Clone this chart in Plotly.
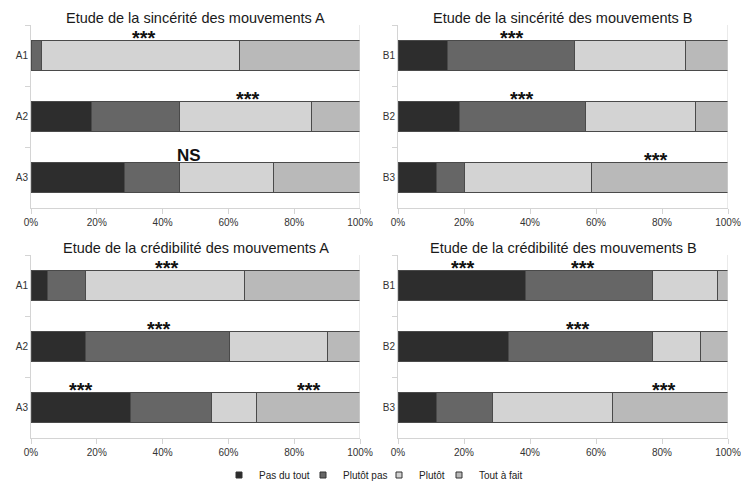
import plotly.graph_objects as go

# ---------------- data ----------------
responses = ["Pas du tout", "Plutôt pas", "Plutôt", "Tout à fait"]
colors = ["#2d2d2d", "#666666", "#d3d3d3", "#b9b9b9"]

cats_A = ["A1", "A2", "A3"]
cats_B = ["B1", "B2", "B3"]

# rows = responses, columns = categories (percent)
sincerite_A = [
    [0.0, 18.3, 28.3],
    [3.2, 26.8, 16.8],
    [60.2, 40.1, 28.5],
    [36.6, 14.8, 26.4],
]
sincerite_B = [
    [15.1, 18.7, 11.8],
    [38.4, 38.2, 8.3],
    [33.5, 33.2, 38.5],
    [13.0, 9.9, 41.4],
]
credibilite_A = [
    [5.0, 16.7, 30.1],
    [11.7, 43.5, 24.9],
    [48.3, 29.9, 13.5],
    [35.0, 9.9, 31.5],
]
credibilite_B = [
    [38.5, 33.5, 11.8],
    [38.5, 43.5, 16.8],
    [19.8, 14.6, 36.5],
    [3.2, 8.4, 34.9],
]

titles = [
    "Etude de la sincérité des mouvements A",
    "Etude de la sincérité des mouvements B",
    "Etude de la crédibilité des mouvements A",
    "Etude de la crédibilité des mouvements B",
]

# significance marks: (category, x position in %, text)
marks_sA = [("A1", 34.2, "***"), ("A2", 65.9, "***"), ("A3", 47.9, "NS")]
marks_sB = [("B1", 34.4, "***"), ("B2", 37.6, "***"), ("B3", 78.3, "***")]
marks_cA = [("A1", 41.3, "***"), ("A2", 38.8, "***"), ("A3", 15.3, "***"), ("A3", 84.6, "***")]
marks_cB = [("B1", 19.8, "***"), ("B1", 56.2, "***"), ("B2", 54.6, "***"), ("B3", 80.6, "***")]

x_ticks = [0, 20, 40, 60, 80, 100]
x_tick_labels = ["0%", "20%", "40%", "60%", "80%", "100%"]

# ---------------- layout geometry ----------------
W, H = 741, 483
def px_x(a, b):
    return [a / W, b / W]
def px_y(top, bottom):
    return [(H - bottom) / H, (H - top) / H]
def py(v):
    return (H - v) / H

panels = [
    dict(data=sincerite_A, cats=cats_A, marks=marks_sA, xd=px_x(31, 360), yd=px_y(25, 208), ty=18),
    dict(data=sincerite_B, cats=cats_B, marks=marks_sB, xd=px_x(398, 728), yd=px_y(25, 208), ty=18),
    dict(data=credibilite_A, cats=cats_A, marks=marks_cA, xd=px_x(31, 360), yd=px_y(255, 438), ty=248),
    dict(data=credibilite_B, cats=cats_B, marks=marks_cB, xd=px_x(398, 728), yd=px_y(255, 438), ty=248),
]

# legend symbol centres (page px)
legend_symbol_x = [240, 324, 400, 460]

FONT = "Liberation Sans, Arial, sans-serif"
AXC = "#d4d4d4"

fig = go.Figure()
annotations = []
shapes = []
layout_axes = {}

for i, p in enumerate(panels):
    n = "" if i == 0 else str(i + 1)
    xa, ya = "x" + n, "y" + n
    for r, resp in enumerate(responses):
        fig.add_trace(go.Bar(
            y=p["cats"], x=p["data"][r], orientation="h", name=resp,
            marker=dict(color=colors[r], line=dict(color="#4a4a4a", width=1)),
            xaxis=xa, yaxis=ya, legendgroup=resp, showlegend=False,
            hoverinfo="x+y+name",
        ))
    layout_axes["xaxis" + n] = dict(
        domain=p["xd"], anchor=ya, range=[0, 100], tickmode="array",
        tickvals=x_ticks, ticktext=x_tick_labels, automargin=False,
        showline=True, linecolor=AXC, linewidth=1,
        ticks="outside", ticklen=5, tickcolor=AXC, showgrid=False, zeroline=False,
        tickfont=dict(size=10, color="#333333", family=FONT), fixedrange=True,
    )
    layout_axes["yaxis" + n] = dict(
        domain=p["yd"], anchor=xa, type="category", categoryarray=p["cats"],
        categoryorder="array", range=[2.5, -0.5], showline=True, linecolor=AXC,
        ticks="outside", ticklen=5, tickcolor=AXC, tickson="boundaries",
        showgrid=False, zeroline=False, automargin=False,
        tickfont=dict(size=10, color="#333333", family=FONT), fixedrange=True,
    )
    shapes.append(dict(type="line", xref=xa, yref=ya + " domain", x0=100, x1=100,
                       y0=0, y1=1, line=dict(color=AXC, width=1)))
    annotations.append(dict(
        text=titles[i], xref="paper", yref="paper",
        x=(p["xd"][0] + p["xd"][1]) / 2, y=py(p["ty"]),
        xanchor="center", yanchor="middle", showarrow=False,
        font=dict(size=14.5, color="#1a1a1a", family=FONT),
    ))
    for cat, xv, txt in p["marks"]:
        if txt == "NS":
            f = dict(size=17, color="#111111", family=FONT, weight="bold")
            ys = 22
        else:
            f = dict(size=20, color="#111111", family=FONT, weight="bold")
            ys = 18
        annotations.append(dict(
            text=txt, xref=xa, yref=ya, x=xv, y=cat, yshift=ys,
            xanchor="center", yanchor="middle", showarrow=False, font=f,
        ))

# legend entries (one small legend per response so each can be placed)
legends = {}
for r, resp in enumerate(responses):
    lname = "legend" if r == 0 else "legend%d" % (r + 1)
    fig.add_trace(go.Scatter(
        x=[None], y=[None], mode="markers", name=resp,
        marker=dict(symbol="square", size=6, color=colors[r],
                    line=dict(color="#333333", width=1)),
        legend=lname, legendgroup=resp, showlegend=True, hoverinfo="skip",
    ))
    legends[lname] = dict(
        orientation="h", x=(legend_symbol_x[r] - 21) / W, y=py(475),
        xanchor="left", yanchor="middle", font=dict(size=10, color="#222222", family=FONT),
        itemwidth=30, bgcolor="rgba(0,0,0,0)",
    )

fig.update_layout(
    template="none",
    width=W, height=H, margin=dict(l=0, r=0, t=0, b=0, autoexpand=False),
    paper_bgcolor="white", plot_bgcolor="white",
    barmode="stack", bargap=0.5,
    font=dict(family=FONT, color="#333333"),
    annotations=annotations, shapes=shapes,
    **legends,
    **layout_axes,
)

fig.write_html(
    "out.html",
    config={"displayModeBar": False},
    post_script="document.body.style.margin='0';document.body.style.overflow='hidden';",
)
